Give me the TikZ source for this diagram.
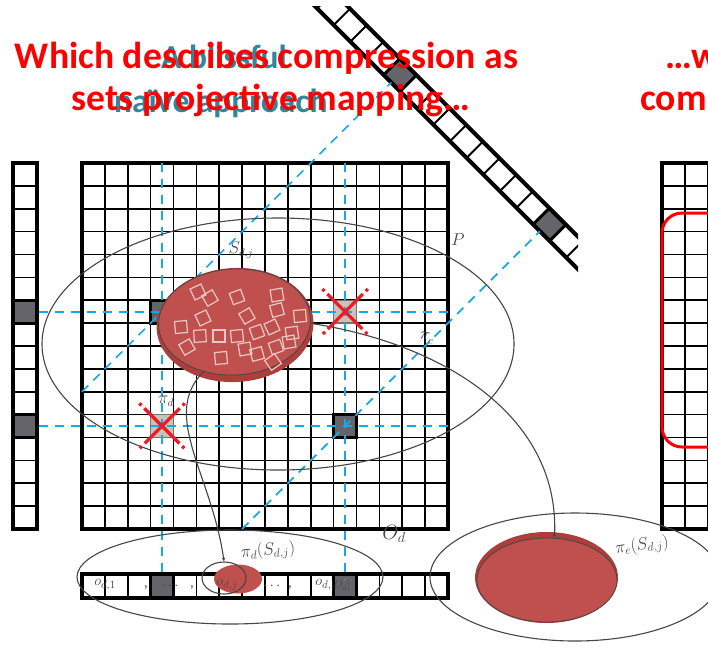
\documentclass[tikz,border=0pt]{standalone}
\usepackage{fontspec}
\setmainfont{Carlito}
\usetikzlibrary{arrows.meta,shapes.geometric}
\definecolor{tred}{RGB}{255,0,0}
\definecolor{tteal}{RGB}{49,133,156}
\definecolor{bdash}{RGB}{20,170,230}
\definecolor{cellgray}{RGB}{100,100,106}
\definecolor{beige}{RGB}{205,192,182}
\definecolor{rdisc}{RGB}{192,80,77}
\definecolor{rdiscdark}{RGB}{172,62,59}
\definecolor{xred}{RGB}{235,28,36}
\definecolor{pengray}{RGB}{70,70,70}
\definecolor{sqline}{RGB}{232,200,198}
\begin{document}
\begin{tikzpicture}[x=1pt,y=-1pt,
  thinline/.style={line width=1.6pt,black},
  frameline/.style={line width=3.6pt,black},
  darkcell/.style={fill=cellgray,draw=black,line width=3pt,inner sep=0pt},
  crosscell/.style={fill=beige,draw=black!55,line width=1.4pt,inner sep=0pt,minimum size=22.875pt},
  bluedash/.style={draw=bdash,line width=1.7pt,dash pattern=on 9pt off 7pt},
  redx/.style={draw=xred,line width=3.2pt,dash pattern=on 3pt off 4pt on 49.6pt off 4pt on 3pt},
  penline/.style={draw=pengray,line width=1.1pt},
  sqr/.style={draw=sqline,line width=1.2pt,minimum size=12pt,inner sep=0pt},
  xbox/.style={minimum size=45pt,inner sep=0pt},
  lbl/.style={text=pengray,inner sep=0pt},
  redtitle/.style={font=\fontsize{37.6pt}{42pt}\selectfont\bfseries,text=tred,inner sep=0pt},
  tealtxt/.style={font=\fontsize{33.5pt}{40pt}\selectfont\bfseries,text=tteal,inner sep=0pt},
  tip/.style={-{Stealth[length=4pt,width=3.5pt]}}
]
\def\cs{22.875}
\useasboundingbox (0,0) rectangle (708,649);
\clip (0,0) rectangle (708,649);
\fill[white] (0,0) rectangle (708,649);

% teal (hidden) title
\node[tealtxt,anchor=base west] (t1) at (161,68) {A blissful};
\node[tealtxt,anchor=base west] (t2) at (114,112) {naïve approach};

% ---------- main grid ----------
\foreach \i in {1,...,15}{
  \draw[thinline] ({82+\i*\cs},163) -- ({82+\i*\cs},529);
  \draw[thinline] (82,{163+\i*\cs}) -- (448,{163+\i*\cs});
}
\node[darkcell,minimum size=22.875pt] (G36) at (162.0625,311.6875) {};
\node[darkcell,minimum size=22.875pt] (G1111) at (345.0625,426.0625) {};
\node[crosscell] (G116) at (345.0625,311.6875) {};
\node[crosscell] (G311) at (162.0625,426.0625) {};
\draw[frameline] (82,163) rectangle (448,529);

% ---------- left column ----------
\foreach \i in {1,...,15}{
  \draw[thinline] (13,{163+\i*\cs}) -- (37,{163+\i*\cs});
}
\node[darkcell,minimum width=24pt,minimum height=22.875pt] (L6) at (25,311.6875) {};
\node[darkcell,minimum width=24pt,minimum height=22.875pt] (L11) at (25,426.0625) {};
\draw[frameline] (13,163) rectangle (37,529);

% ---------- bottom vector ----------
\foreach \i in {1,...,15}{
  \draw[thinline] ({82+\i*\cs},574) -- ({82+\i*\cs},598);
}
\node[darkcell,minimum width=22.875pt,minimum height=24pt] (B3) at (162.0625,586) {};
\node[darkcell,minimum width=22.875pt,minimum height=24pt] (B11) at (345.0625,586) {};
\draw[frameline] (82,574) rectangle (448,598);

% ---------- right column ----------
\foreach \i in {1,...,15}{
  \draw[thinline] (662,{163+\i*\cs}) -- (730,{163+\i*\cs});
}
\draw[thinline] (684.9,163) -- (684.9,529);
\draw[thinline] (707.8,163) -- (707.8,529);
\draw[frameline] (730,163) -- (662,163) -- (662,529) -- (730,529);
\draw[tred,line width=3pt,rounded corners=20pt] (662,213) rectangle (760,447);

% ---------- diagonal vector ----------
\begin{scope}
  \clip (0,6) rectangle (578,649);
  \fill[white] (300.165,-41.095) -- (615.755,274.495) -- (599.495,290.755) -- (283.905,-24.835) -- cycle;
  \fill[cellgray] (399.825,58.565) -- (416.435,75.175) -- (400.175,91.435) -- (383.565,74.825) -- cycle;
  \fill[cellgray] (549.315,208.055) -- (565.925,224.665) -- (549.665,240.925) -- (533.055,224.315) -- cycle;
  \foreach \k in {-6,...,13}{
    \draw[line width=2pt] ({399.825+16.61*\k},{58.565+16.61*\k}) -- ({383.565+16.61*\k},{74.825+16.61*\k});
  }
  \draw[line width=3pt] (399.825,58.565) -- (416.435,75.175) -- (400.175,91.435) -- (383.565,74.825) -- cycle;
  \draw[line width=3pt] (549.315,208.055) -- (565.925,224.665) -- (549.665,240.925) -- (533.055,224.315) -- cycle;
  \draw[line width=4pt] (300.165,-41.095) -- (615.755,274.495);
  \draw[line width=4pt] (283.905,-24.835) -- (599.495,290.755);
\end{scope}

% ---------- blue dashed projection lines ----------
\coordinate (H6R) at (448,311.6875);
\coordinate (H11R) at (448,426.0625);
\coordinate (V3T) at (162.0625,163);
\coordinate (V3B) at (162.0625,577);
\coordinate (V11T) at (345.0625,163);
\coordinate (V11B) at (345.0625,580);
\coordinate (D1a) at (82,391.75);
\coordinate (D1b) at (391.25,82.5);
\coordinate (D2a) at (242.1,529);
\coordinate (D2b) at (539.9,231.2);
\draw[bluedash] (L6.east) -- (H6R);
\draw[bluedash] (L11.east) -- (H11R);
\draw[bluedash] (V3T) -- (V3B);
\draw[bluedash] (V11T) -- (V11B);
\draw[bluedash] (D1a) -- (D1b);
\draw[bluedash] (D2a) -- (D2b);

% ---------- ellipses ----------
\node[ellipse,penline,minimum width=472pt,minimum height=252pt,inner sep=0pt] (P) at (278,344) {};
\node[ellipse,penline,minimum width=306pt,minimum height=94pt,inner sep=0pt] (Od) at (230,577) {};
\node[ellipse,penline,minimum width=290pt,minimum height=128pt,inner sep=0pt] (Pe) at (575,577) {};

% red set S
\node[ellipse,fill=rdiscdark,minimum width=157pt,minimum height=114pt,inner sep=0pt,rotate=3] (S) at (235,325) {};
\node[ellipse,fill=rdisc,draw=pengray,line width=0.8pt,minimum width=152pt,minimum height=106pt,inner sep=0pt,rotate=3] (Stop) at (234.5,322) {};
\node[sqr,rotate=25] (q1) at (198,292) {};
\node[sqr,rotate=30] (q2) at (210,298) {};
\node[sqr,rotate=20] (q3) at (237,297) {};
\node[sqr,rotate=10] (q4) at (277,295) {};
\node[sqr,rotate=25] (q5) at (203,318) {};
\node[sqr,rotate=30] (q6) at (247,316) {};
\node[sqr,rotate=15] (q7) at (277,310) {};
\node[sqr,rotate=5] (q8) at (300,316) {};
\node[sqr,rotate=5] (q9) at (181,327) {};
\node[sqr,rotate=3] (q10) at (200,336) {};
\node[sqr,rotate=0] (q11) at (219,336) {};
\node[sqr,rotate=5] (q12) at (237,336) {};
\node[sqr,rotate=20] (q13) at (257,332) {};
\node[sqr,rotate=25] (q14) at (272,327) {};
\node[sqr,rotate=8] (q15) at (292,333) {};
\node[sqr,rotate=30] (q16) at (187,347) {};
\node[sqr,rotate=10] (q17) at (245,349) {};
\node[sqr,rotate=15] (q18) at (257,354) {};
\node[sqr,rotate=20] (q19) at (276,347) {};
\node[sqr,rotate=10] (q20) at (289,342) {};
\node[sqr,rotate=5] (q21) at (221,358) {};
\node[sqr,rotate=35] (q22) at (273,362) {};

% projected sets
\node[ellipse,fill=rdisc,minimum width=48pt,minimum height=29pt,inner sep=0pt] (Sd) at (238,579) {};
\node[ellipse,penline,minimum width=44pt,minimum height=32pt,inner sep=0pt] (Sdo) at (224,578) {};
\node[ellipse,fill=rdiscdark,minimum width=143pt,minimum height=91pt,inner sep=0pt] (Se) at (546.5,577.5) {};
\node[ellipse,fill=rdisc,draw=pengray,line width=0.8pt,minimum width=140pt,minimum height=84pt,inner sep=0pt] (Setop) at (547,580) {};

% mapping curves
\draw[penline,tip] (Stop.235) .. controls (160,415) and (212,475) .. (Sdo.north);
\draw[penline,tip] (Stop.356) .. controls (450,345) and (560,420) .. (Setop.80);

% ---------- crosses ----------
\node[xbox] (X1) at (345.0625,311.6875) {};
\node[xbox] (X2) at (162.0625,426.0625) {};
\draw[redx] (X1.north west) -- (X1.south east);
\draw[redx] (X1.north east) -- (X1.south west);
\draw[redx] (X2.north west) -- (X2.south east);
\draw[redx] (X2.north east) -- (X2.south west);

% ---------- labels ----------
\node[lbl,font=\fontsize{17pt}{20pt}\selectfont] (lP) at (458,240) {$P$};
\node[lbl,font=\fontsize{16pt}{18pt}\selectfont] (lS) at (241,250) {$S_{d,j}$};
\node[lbl,font=\fontsize{16pt}{18pt}\selectfont] (lpd) at (166,401) {$\pi_d$};
\node[lbl,font=\fontsize{16pt}{18pt}\selectfont,rotate=-12] (lpe) at (427,338) {$\pi_e$};
\node[lbl,font=\fontsize{17pt}{19pt}\selectfont,rotate=5] (lpdS) at (268,551) {$\pi_d(S_{d,j})$};
\node[lbl,font=\fontsize{17pt}{19pt}\selectfont,rotate=8] (lpeS) at (642,546) {$\pi_e(S_{d,j})$};
\node[lbl,font=\fontsize{22pt}{24pt}\selectfont] (lOd) at (394,534) {$O_d$};
\node[lbl,font=\fontsize{15pt}{17pt}\selectfont] (o1) at (105,585) {$o_{d,1}$};
\node[lbl,font=\fontsize{15pt}{17pt}\selectfont] (c1) at (146,588) {,};
\node[lbl,font=\fontsize{15pt}{17pt}\selectfont] (d1) at (170,586) {$\cdots$};
\node[lbl,font=\fontsize{15pt}{17pt}\selectfont] (c2) at (192,588) {,};
\node[lbl,font=\fontsize{15pt}{17pt}\selectfont] (oj) at (227,585) {$o_{d,j}$};
\node[lbl,font=\fontsize{15pt}{17pt}\selectfont] (d2) at (272,586) {$\cdots$};
\node[lbl,font=\fontsize{15pt}{17pt}\selectfont] (c3) at (290,588) {,};
\node[lbl,font=\fontsize{15pt}{17pt}\selectfont] (ol) at (333,585) {$o_{d,|O_d|}$};

% ---------- red titles ----------
\node[redtitle,anchor=base] (r1) at (266.5,68) {Which describes compression as};
\node[redtitle,anchor=base] (r2) at (271,110) {sets projective mapping…};
\node[redtitle,anchor=base west] (r3) at (665,68) {…w};
\node[redtitle,anchor=base west] (r4) at (640,110) {com};
\end{tikzpicture}
\end{document}
